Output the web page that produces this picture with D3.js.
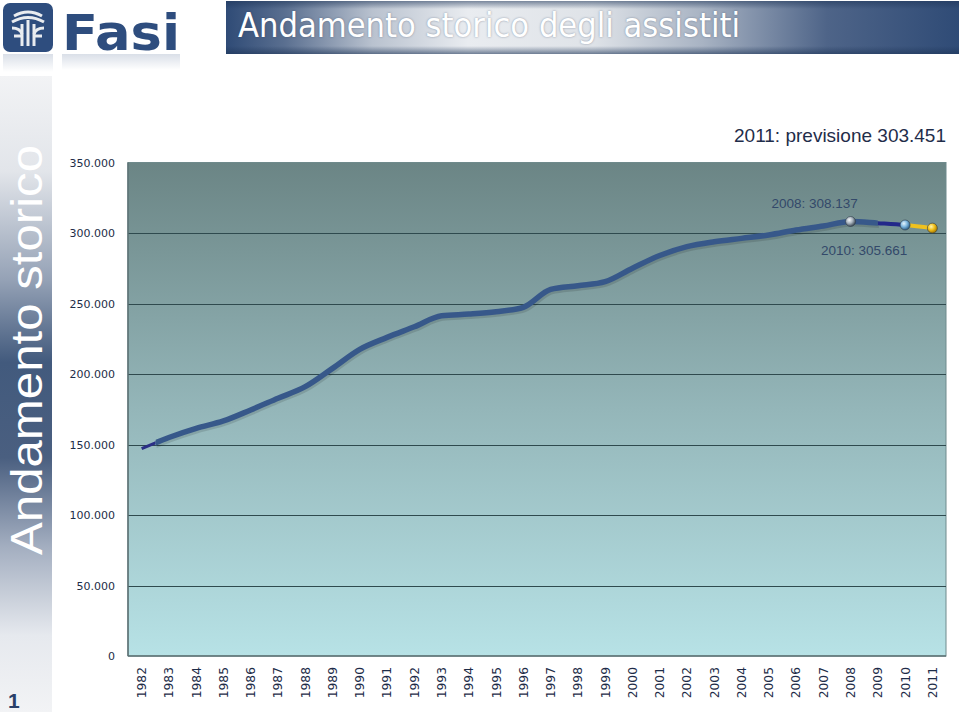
<!DOCTYPE html>
<html><head><meta charset="utf-8">
<script src="https://cdn.jsdelivr.net/npm/d3@7"></script>
<style>html,body{margin:0;padding:0;background:#fff;}svg{display:block;}</style>
</head><body>
<svg id="c" width="960" height="712"></svg>
<script>
const years = ["1982","1983","1984","1985","1986","1987","1988","1989","1990","1991","1992","1993","1994","1995","1996","1997","1998","1999","2000","2001","2002","2003","2004","2005","2006","2007","2008","2009","2010","2011"];
const assistiti = [147000,155000,161500,166700,174500,182800,191000,204000,217500,226000,233500,241300,242500,244200,247300,260000,262600,265500,275000,284000,290300,293800,296200,298600,302100,305000,308137,307000,305661,303451];
const yTicks = [0,50000,100000,150000,200000,250000,300000,350000];
const title = "Andamento storico degli assistiti";
const sideTitle = "Andamento storico";
const noteMain = "2011: previsione 303.451";
const note2008 = "2008: 308.137";
const note2010 = "2010: 305.661";
const pageNum = "1";

const svg = d3.select("#c");
const defs = svg.append("defs");
const fmt = v => v === 0 ? "0" : d3.format(",")(v).replace(/,/g, ".");

// gradients
const gBar = defs.append("linearGradient").attr("id","gBar");
[[0,"#2f4b76"],[0.08,"#5a6f90"],[0.2,"#b9c2cf"],[0.33,"#e9ecf0"],[0.5,"#dfe3e8"],[0.65,"#a8b3c3"],[0.82,"#4e6488"],[1,"#2f4b76"]]
  .forEach(s=>gBar.append("stop").attr("offset",s[0]).attr("stop-color",s[1]));
const gBarV = defs.append("linearGradient").attr("id","gBarV").attr("x2",0).attr("y2",1);
[[0,"#1e3558",0.55],[0.15,"#1e3558",0],[0.85,"#1e3558",0],[1,"#1e3558",0.6]]
  .forEach(s=>gBarV.append("stop").attr("offset",s[0]).attr("stop-color",s[1]).attr("stop-opacity",s[2]));
const gSide = defs.append("linearGradient").attr("id","gSide").attr("x2",0).attr("y2",1);
[[0,"#f2f3f5"],[0.15,"#e2e5ea"],[0.32,"#95a2b6"],[0.45,"#425a7d"],[0.6,"#4a5f80"],[0.74,"#a3aec0"],[0.88,"#e6e9ee"],[1,"#f2f3f5"]]
  .forEach(s=>gSide.append("stop").attr("offset",s[0]).attr("stop-color",s[1]));
const gPlot = defs.append("linearGradient").attr("id","gPlot").attr("x2",0).attr("y2",1);
[[0,"#6b8585"],[0.5,"#94b6b9"],[1,"#b7e2e6"]]
  .forEach(s=>gPlot.append("stop").attr("offset",s[0]).attr("stop-color",s[1]));
const fadeW = defs.append("linearGradient").attr("id","fadeW").attr("x2",0).attr("y2",1);
fadeW.append("stop").attr("offset",0).attr("stop-color","#2e4d7e").attr("stop-opacity",0.18);
fadeW.append("stop").attr("offset",1).attr("stop-color","#2e4d7e").attr("stop-opacity",0);
function ball(id, light, mid, dark){
  const g = defs.append("radialGradient").attr("id",id).attr("cx","38%").attr("cy","35%").attr("r","65%");
  g.append("stop").attr("offset",0).attr("stop-color",light);
  g.append("stop").attr("offset",0.5).attr("stop-color",mid);
  g.append("stop").attr("offset",1).attr("stop-color",dark);
}
ball("bGrey","#f4f6f8","#a9b4be","#3e4a56");
ball("bBlue","#e6f4fc","#7fb8df","#2e5f88");
ball("bYel","#fff4b0","#f2c21c","#a87a00");

// header logo
const logo = svg.append("g");
logo.append("rect").attr("x",3).attr("y",3).attr("width",50).attr("height",49).attr("rx",7).attr("fill","#2e4d7e");
const em = logo.append("g").attr("fill","none").attr("stroke","#e9ecf0").attr("stroke-width",3);
em.append("path").attr("d","M14 16 Q28 8 42 16");
em.append("path").attr("d","M12 22 Q28 13 44 22");
em.append("path").attr("d","M22 24 L22 46 M34 24 L34 46 M28 20 L28 46");
em.append("path").attr("d","M12 28 Q20 28 22 34 M44 28 Q36 28 34 34");
em.append("path").attr("d","M14 36 L22 36 M34 36 L42 36");
logo.append("text").attr("x",62).attr("y",50).attr("font-family","DejaVu Sans").attr("font-weight","bold")
  .attr("font-size",50).attr("fill","#2e4d7e").attr("textLength",118).attr("lengthAdjust","spacingAndGlyphs").text("Fasi");
svg.append("rect").attr("x",3).attr("y",54).attr("width",50).attr("height",18).attr("fill","url(#fadeW)");
svg.append("rect").attr("x",62).attr("y",54).attr("width",118).attr("height",16).attr("fill","url(#fadeW)");

// title bar
svg.append("rect").attr("x",226).attr("y",1).attr("width",733).attr("height",53).attr("fill","url(#gBar)");
svg.append("rect").attr("x",226).attr("y",1).attr("width",733).attr("height",53).attr("fill","url(#gBarV)");
svg.append("text").attr("x",238).attr("y",37).attr("font-family","'Comic Sans MS','DejaVu Sans Condensed',sans-serif")
  .attr("font-size",33).attr("fill","#ffffff").attr("textLength",502).attr("lengthAdjust","spacingAndGlyphs")
  .style("text-shadow","0 0 2px rgba(40,60,90,0.5)").text(title);

// side band
svg.append("rect").attr("x",0).attr("y",76).attr("width",52).attr("height",636).attr("fill","url(#gSide)");
svg.append("text").attr("transform","translate(42,555) rotate(-90)").attr("font-family","'Liberation Sans',Arial,sans-serif")
  .attr("font-size",45).attr("fill","#ffffff").attr("textLength",410).attr("lengthAdjust","spacingAndGlyphs").text(sideTitle);
svg.append("text").attr("x",8).attr("y",708).attr("font-family","'Liberation Sans',Arial,sans-serif").attr("font-weight","bold")
  .attr("font-size",21).attr("fill","#2a4068").text(pageNum);

// chart
const L = 128, R = 946, T = 162.5, B = 656;
const x = d3.scaleBand().domain(years).range([L,R]);
const y = d3.scaleLinear().domain([0,350000]).range([B,T]);
svg.append("rect").attr("x",L).attr("y",T).attr("width",R-L).attr("height",B-T).attr("fill","url(#gPlot)")
  .attr("stroke","#6f8a8c").attr("stroke-width",1);
svg.append("g").selectAll("line").data(yTicks.filter(d=>d>0 && d<350000)).join("line")
  .attr("x1",L).attr("x2",R).attr("y1",d=>Math.round(y(d))+0.5).attr("y2",d=>Math.round(y(d))+0.5)
  .attr("stroke","#2f4a4e").attr("stroke-width",1.2);
svg.append("line").attr("x1",L).attr("x2",L).attr("y1",T).attr("y2",B).attr("stroke","#5d7274").attr("stroke-width",1.5);
svg.append("line").attr("x1",L).attr("x2",R).attr("y1",B).attr("y2",B).attr("stroke","#5d7274").attr("stroke-width",1.5);

const yAxis = svg.append("g").attr("transform",`translate(${L},0)`)
  .call(d3.axisLeft(y).tickValues(yTicks).tickFormat(fmt).tickSize(0).tickPadding(13));
yAxis.select(".domain").remove();
yAxis.selectAll("text").attr("font-family","'DejaVu Sans',Verdana,sans-serif").attr("font-size",11).attr("fill","#1d2c48");

const xAxis = svg.append("g").attr("transform",`translate(0,${B})`)
  .call(d3.axisBottom(x).tickSize(0));
xAxis.select(".domain").remove();
xAxis.selectAll("text").attr("font-family","'DejaVu Sans',Verdana,sans-serif").attr("font-size",12.3).attr("fill","#1d2c48")
  .attr("transform","rotate(-90)").attr("text-anchor","end").attr("x",-11).attr("y",0).attr("dy","0.36em");

const cx = (d,i) => x(years[i]) + x.bandwidth()/2;
const pts = assistiti.map((v,i)=>[cx(v,i), y(v)]);
const line = d3.line().curve(d3.curveMonotoneX);
const full = line(pts);
function clipSeg(id, x0, x1){
  defs.append("clipPath").attr("id",id).append("rect").attr("x",x0).attr("y",0).attr("width",x1-x0).attr("height",712);
}
const px = i => pts[i][0];
clipSeg("s1", 0, px(0)+14);
clipSeg("s2", px(0)+14, px(27));
clipSeg("s3", px(27), px(28));
clipSeg("s4", px(28), 960);
svg.append("path").attr("d",full).attr("fill","none").attr("stroke","#000").attr("stroke-opacity",0.12).attr("stroke-width",6)
  .attr("transform","translate(1,2)").attr("clip-path","url(#s2)");
svg.append("path").attr("d",full).attr("fill","none").attr("stroke","#2b2f86").attr("stroke-width",3).attr("clip-path","url(#s1)");
svg.append("path").attr("d",full).attr("fill","none").attr("stroke","#37588a").attr("stroke-width",5.5).attr("stroke-linecap","round").attr("clip-path","url(#s2)");
svg.append("path").attr("d",full).attr("fill","none").attr("stroke","#23288a").attr("stroke-width",4).attr("clip-path","url(#s3)");
svg.append("path").attr("d",full).attr("fill","none").attr("stroke","#f0c21e").attr("stroke-width",4).attr("clip-path","url(#s4)");

const marks = [[26,"bGrey"],[28,"bBlue"],[29,"bYel"]];
svg.append("g").selectAll("circle").data(marks).join("circle")
  .attr("cx",d=>pts[d[0]][0]).attr("cy",d=>pts[d[0]][1]).attr("r",5).attr("fill",d=>`url(#${d[1]})`)
  .attr("stroke","#2f3d4a").attr("stroke-width",0.6);

svg.append("text").attr("x",946).attr("y",142).attr("text-anchor","end").attr("font-family","'Liberation Sans',Arial,sans-serif")
  .attr("font-size",19).attr("fill","#1f2d4a").text(noteMain);
svg.append("text").attr("x",pts[26][0]-36).attr("y",pts[26][1]-14).attr("text-anchor","middle").attr("font-family","'Liberation Sans',Arial,sans-serif")
  .attr("font-size",13.5).attr("fill","#33496a").text(note2008);
svg.append("text").attr("x",pts[28][0]-41).attr("y",pts[28][1]+30).attr("text-anchor","middle").attr("font-family","'Liberation Sans',Arial,sans-serif")
  .attr("font-size",13.5).attr("fill","#33496a").text(note2010);
</script>
</body></html>
